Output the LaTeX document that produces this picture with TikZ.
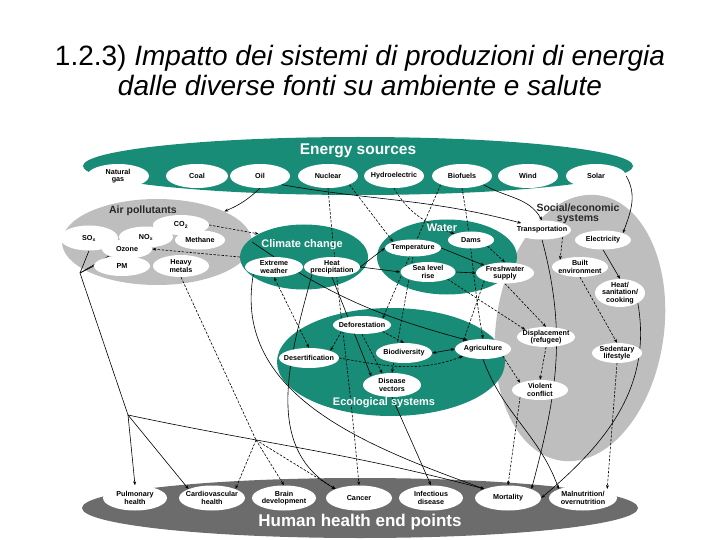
\documentclass[tikz,border=0pt]{standalone}
\usepackage{fontspec}
\setmainfont{Liberation Sans}
\usetikzlibrary{shapes.geometric,arrows.meta}
\definecolor{ecoteal}{RGB}{24,140,118}
\definecolor{lightgrp}{RGB}{190,190,190}
\definecolor{healthgrp}{RGB}{108,108,108}
\definecolor{darktext}{RGB}{40,40,40}
\pgfdeclarelayer{groups}
\pgfdeclarelayer{links}
\pgfsetlayers{groups,links,main}
\begin{document}
\begin{tikzpicture}[x=1pt,y=-1pt]
  \tikzset{group oval/.style={ellipse,fill=#1,inner sep=0pt},
           item/.style={ellipse,fill=white,inner xsep=-7pt,inner ysep=-3pt,minimum width=56pt,minimum height=20pt,align=center,font=\fontsize{7.2}{7.4}\selectfont\bfseries},
           group text/.style={font=\fontsize{10.5}{10.5}\selectfont\bfseries,text=#1,align=center},
           link/.style={-{Stealth[length=4pt,width=3pt]},line width=0.6pt},
           dlink/.style={link,dash pattern=on 2.5pt off 1.5pt},
           twoway/.style={{Stealth[length=4pt,width=3pt]}-{Stealth[length=4pt,width=3pt]},line width=0.6pt}}

  \useasboundingbox (0,0) rectangle (720,540);

  \node[align=center,font=\fontsize{28}{30}\selectfont] (title) at (360,71)
    {1.2.3) \textit{Impatto dei sistemi di produzioni di energia}\\ \textit{dalle diverse fonti su ambiente e salute}};

  % big groups
  \begin{pgfonlayer}{groups}
  \node[group oval=ecoteal,minimum width=550pt,minimum height=58pt] (energy) at (358,166) {};
  \node[group oval=lightgrp,minimum width=190pt,minimum height=86pt] (airpol) at (157,242) {};
  \node[group oval=lightgrp,minimum width=168pt,minimum height=268pt,rotate=-8] (social) at (580,328) {};
  \node[group oval=ecoteal,minimum width=128pt,minimum height=65pt] (climate) at (304,257) {};
  \node[group oval=ecoteal,minimum width=140pt,minimum height=75pt] (water) at (447,257) {};
  \node[group oval=ecoteal,minimum width=228pt,minimum height=108pt] (eco) at (391,362) {};
  \node[group oval=healthgrp,minimum width=556pt,minimum height=60pt] (health) at (360,508) {};
  \end{pgfonlayer}

  % energy sources
  \node[item,minimum width=62pt,minimum height=24pt] (gas) at (118,176) {Natural\\gas};
  \node[item,minimum width=62pt,minimum height=24pt] (coal) at (197,176) {Coal};
  \node[item,minimum width=60pt,minimum height=24pt] (oil) at (260,176) {Oil};
  \node[item,minimum width=60pt,minimum height=24pt] (nuclear) at (328,176) {Nuclear};
  \node[item,minimum width=60pt,minimum height=24pt] (hydro) at (394,176) {Hydroelectric};
  \node[item,minimum width=60pt,minimum height=24pt] (biofuel) at (462,176) {Biofuels};
  \node[item,minimum width=60pt,minimum height=24pt] (wind) at (528,176) {Wind};
  \node[item,minimum width=60pt,minimum height=24pt] (solar) at (596,176) {Solar};

  % air pollutants
  \node[item,minimum width=58pt,minimum height=25pt] (sox) at (89,238) {SO\textsubscript{x}};
  \node[item,minimum width=56pt,minimum height=20pt] (co2) at (181,225) {CO\textsubscript{2}};
  \node[item,minimum width=54pt,minimum height=21pt] (nox) at (146,237) {NO\textsubscript{x}};
  \node[item,minimum width=50pt,minimum height=19pt] (methane) at (200,240) {Methane};
  \node[item,minimum width=50pt,minimum height=19pt] (ozone) at (127,249) {Ozone};
  \node[item,minimum width=56pt,minimum height=20pt] (pm) at (122,266) {PM};
  \node[item,minimum width=56pt,minimum height=22pt] (metals) at (181,266) {Heavy\\metals};

  % climate change
  \node[item,minimum width=58pt] (extreme) at (274,267) {Extreme\\weather};
  \node[item,minimum width=56pt] (heatprec) at (332,267) {Heat\\precipitation};

  % water
  \node[item,minimum width=46pt,minimum height=17pt] (dams) at (471,240) {Dams};
  \node[item,minimum width=56pt,minimum height=17pt] (temp) at (413,248) {Temperature};
  \node[item,minimum width=55pt] (sealevel) at (428,272) {Sea level\\rise};
  \node[item,minimum width=58pt,minimum height=21pt] (fresh) at (505,273) {Freshwater\\supply};

  % social/economic systems
  \node[item,minimum width=58pt,minimum height=19pt] (transport) at (542,230) {Transportation};
  \node[item,minimum width=56pt,minimum height=19pt] (electric) at (603,240) {Electricity};
  \node[item,minimum width=56pt] (built) at (580,267) {Built\\environment};
  \node[item,minimum width=50pt,minimum height=28pt] (heatsan) at (620,293) {Heat/\\sanitation/\\cooking};
  \node[item,minimum width=58pt] (displace) at (546,337) {Displacement\\(refugee)};
  \node[item,minimum width=50pt] (sedentary) at (617,353) {Sedentary\\lifestyle};
  \node[item,minimum width=56pt] (conflict) at (540,390) {Violent\\conflict};

  % ecological systems
  \node[item,minimum width=58pt,minimum height=18pt] (deforest) at (362,325) {Deforestation};
  \node[item,minimum width=60pt] (desert) at (309,358) {Desertification};
  \node[item,minimum width=56pt] (biodiv) at (404,353) {Biodiversity};
  \node[item,minimum width=56pt] (agri) at (483,349) {Agriculture};
  \node[item,minimum width=58pt,minimum height=24pt] (vectors) at (392,385) {Disease\\vectors};

  % health end points
  \node[item,minimum width=64pt,minimum height=25pt] (pulmonary) at (135,498) {Pulmonary\\health};
  \node[item,minimum width=66pt,minimum height=25pt] (cardio) at (212,498) {Cardiovascular\\health};
  \node[item,minimum width=64pt,minimum height=25pt] (brain) at (284,498) {Brain\\development};
  \node[item,minimum width=66pt,minimum height=25pt] (cancer) at (359,498) {Cancer};
  \node[item,minimum width=64pt,minimum height=25pt] (infect) at (431,498) {Infectious\\disease};
  \node[item,minimum width=66pt,minimum height=25pt] (mortality) at (508,498) {Mortality};
  \node[item,minimum width=68pt,minimum height=25pt] (malnut) at (583,498) {Malnutrition/\\overnutrition};

  % group labels
  \node[group text=white,font=\fontsize{15.5}{16}\selectfont\bfseries] (energytext) at (358,151) {Energy sources};
  \node[group text=darktext] (airtext) at (143,211) {Air pollutants};
  \node[group text=white,font=\fontsize{11}{11}\selectfont\bfseries] (climatetext) at (302,245) {Climate change};
  \node[group text=white,font=\fontsize{11}{11}\selectfont\bfseries] (watertext) at (442,228) {Water};
  \node[group text=darktext,font=\fontsize{10.5}{9.5}\selectfont\bfseries] (socialtext) at (578,214) {Social/economic\\systems};
  \node[group text=white,font=\fontsize{11}{11}\selectfont\bfseries] (ecotext) at (384,403) {Ecological systems};
  \node[group text=white,font=\fontsize{17}{17}\selectfont\bfseries] (healthtext) at (360,522) {Human health end points};

  \coordinate (airhub) at (80,273);
  \coordinate (airknee) at (128,415);
  \coordinate (metalhub) at (256,440);

  \begin{pgfonlayer}{links}
  % from energy sources
  \draw[link] (oil.south) to[bend left=10] (airpol.north east);
  \draw[link] (oil.south east) to[out=-10,in=165] (transport.north west);
  \draw[link] (biofuel.south east) to[out=-30,in=120] (transport.north);
  \draw[link] (solar.east) to[out=-60,in=70] (electric.north east);
  \draw[dlink] (hydro.south) to[out=-60,in=160] (dams.north west);
  \draw[dlink] (nuclear.south east) -- (temp.north west);
  \draw[dlink] (nuclear.south) to[out=-85,in=95] (cancer.north);
  \draw[dlink] (biofuel.south west) -- (deforest.north east);
  \draw[dlink] (biofuel.south) to[out=-80,in=100] (agri.north);

  % air pollutants
  \draw[dlink] (co2.east) -- (climate.north west);
  \draw[dlink] (climate.west) -- (ozone.east);
  \draw[line width=0.6pt] (sox.south) -- (airhub);
  \draw[line width=0.6pt] (ozone.south west) -- (airhub);
  \draw[line width=0.6pt] (pm.west) -- (airhub);
  \draw[line width=0.6pt] (airhub) -- (airknee);
  \draw[link] (airknee) -- (pulmonary.north);
  \draw[link] (airknee) -- (cardio.north west);
  \draw[link] (airknee) to[out=-12,in=165] (mortality.north west);
  \draw[line width=0.6pt,dash pattern=on 2.5pt off 1.5pt] (metals.south) -- (metalhub);
  \draw[dlink] (metalhub) -- (cardio.north east);
  \draw[dlink] (metalhub) -- (brain.north);
  \draw[dlink] (metalhub) -- (cancer.north west);
  \draw[link] (airpol.east) to[out=-35,in=165] (agri.150);

  % climate change and water
  \draw[link] (heatprec.east) -- (temp.west);
  \draw[link] (heatprec.east) -- (sealevel.west);
  \draw[twoway,dash pattern=on 2.5pt off 1.5pt] (extreme.south) -- (desert.north);
  \draw[link] (heatprec.south) -- (vectors.north west);
  \draw[link] (extreme.south west) to[out=-100,in=160] (mortality.north west);
  \draw[link] (heatprec.south west) to[out=-105,in=150] (cancer.north west);
  \draw[link] (temp.east) -- (fresh.north west);
  \draw[link] (sealevel.east) -- (fresh.west);
  \draw[dlink] (dams.south east) -- (fresh.north);
  \draw[dlink] (temp.south) -- (vectors.north);
  \draw[dlink] (sealevel.south east) -- (displace.north west);
  \draw[dlink] (fresh.south) -- (displace.north);
  \draw[dlink] (fresh.south west) -- (agri.north west);

  % social/economic systems
  \draw[dlink] (transport.south east) -- (built.north west);
  \draw[link] (electric.south) -- (heatsan.north);
  \draw[dlink] (built.south) -- (sedentary.north);
  \draw[link] (transport.south) to[out=-75,in=75] (mortality.north east);
  \draw[link] (heatsan.south east) to[out=-80,in=40] (mortality.east);
  \draw[dlink] (displace.south) -- (conflict.north);
  \draw[dlink] (agri.south east) -- (conflict.north west);
  \draw[dlink] (conflict.south west) -- (mortality.north);
  \draw[dlink] (sedentary.south) -- (malnut.north east);

  % ecological systems
  \draw[dlink] (deforest.south west) -- (desert.north east);
  \draw[dlink] (deforest.south east) -- (biodiv.north);
  \draw[dlink] (deforest.south) -- (vectors.130);
  \draw[twoway] (biodiv.east) -- (agri.west);
  \draw[dlink] (desert.east) to[out=-10,in=200] (agri.south west);
  \draw[link] (vectors.south) -- (infect.north);
  \draw[link] (agri.south) to[out=-70,in=110] (malnut.north west);
  \end{pgfonlayer}
\end{tikzpicture}
\end{document}
